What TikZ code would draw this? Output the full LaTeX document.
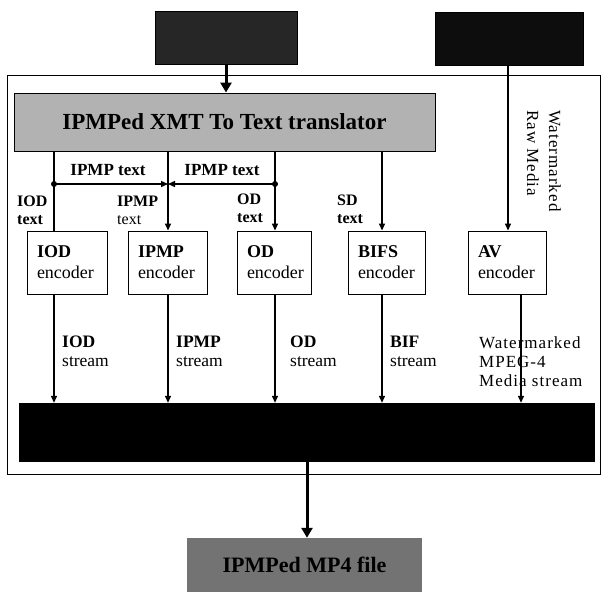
\documentclass[tikz,border=0pt]{standalone}
\usepackage{fontspec}
\setmainfont{Liberation Serif}
\newfontfamily\widefont[LetterSpace=6]{Liberation Serif}
\usetikzlibrary{arrows.meta}
\begin{document}
\begin{tikzpicture}[x=1pt,y=-1pt,
  encbox/.style={draw, line width=0.9pt, fill=white, minimum height=63pt, inner xsep=10pt, inner ysep=0pt,
    text width=#1, align=left, font=\fontsize{18}{21}\selectfont},
  lbl/.style={inner sep=0pt, align=left, font=\fontsize{16}{17.5}\selectfont},
  slbl/.style={inner sep=0pt, align=left, font=\fontsize{17.5}{19}\selectfont},
  thinarrow/.style={line width=1.3pt, -{Triangle[width=6pt,length=7pt]}},
  thinline/.style={line width=1.3pt},
  thickarrow/.style={line width=3pt, -{Triangle[width=11pt,length=10pt]}},
  dot/.style={circle, fill=black, inner sep=0pt, minimum size=6pt}
]
\useasboundingbox (0,0) rectangle (603,592);
\fill[white] (0,0) rectangle (603,592);

% outer frame
\node[draw, line width=1pt, minimum width=593pt, minimum height=399pt, inner sep=0pt] (frame) at (303.5,274.5) {};

% top boxes
\node[fill=black!85, draw=black, minimum width=142pt, minimum height=53pt, inner sep=0pt] (topL) at (226,37.5) {};
\node[fill=black!95, draw=black, minimum width=148pt, minimum height=53pt, inner sep=0pt] (topR) at (509,38.5) {};

% translator
\node[fill=black!30, draw=black, line width=0.9pt, minimum width=421pt, minimum height=58pt, inner sep=0pt,
  font=\fontsize{23}{26}\selectfont\bfseries] (trans) at (224.5,122) {IPMPed XMT To Text translator};

% encoders
\node[encbox=60pt] (iod)  at (67,262.5)   {\textbf{IOD}\\encoder};
\node[encbox=59pt] (ipmp) at (167.5,262.5) {\textbf{IPMP}\\encoder};
\node[encbox=54pt] (od)   at (274,262.5)   {\textbf{OD}\\encoder};
\node[encbox=57pt] (bifs) at (386.5,262.5) {\textbf{BIFS}\\encoder};
\node[encbox=58pt] (av)   at (507,262.5)   {\textbf{AV}\\encoder};

% multiplexer and output
\node[fill=black, minimum width=576pt, minimum height=59pt, inner sep=0pt] (mux) at (307,432.5) {};
\node[fill=black!55, minimum width=235pt, minimum height=54pt, inner sep=0pt,
  font=\fontsize{22}{24}\selectfont\bfseries] (out) at (304.5,565) {IPMPed MP4 file};

% x positions of connectors
\coordinate (xIOD) at (54,0);
\coordinate (xIPMP) at (168,0);
\coordinate (xOD) at (275,0);
\coordinate (xBIFS) at (382,0);
\coordinate (xAV) at (508,0);
\coordinate (xAVo) at (521,0);

% inputs
\draw[thickarrow] (topL.south) -- (trans.north -| topL.south);
\draw[thinline] (trans.south -| xIOD) -- (iod.north -| xIOD);
\draw[thinarrow] (trans.south -| xIPMP) -- (ipmp.north -| xIPMP);
\draw[thinarrow] (trans.south -| xOD) -- (od.north -| xOD);
\draw[thinarrow] (trans.south -| xBIFS) -- (bifs.north -| xBIFS);
\draw[thinarrow] (topR.south -| xAV) -- (av.north -| xAV);

% IPMP text branches
\node[dot] (d1) at (54,184) {};
\node[dot] (d2) at (275,184) {};
\coordinate (m) at (168,184);
\draw[thinarrow] (d1.center) -- (m);
\draw[thinarrow] (d2.center) -- (m);

% outputs
\draw[thinarrow] (iod.south -| xIOD) -- (mux.north -| xIOD);
\draw[thinarrow] (ipmp.south -| xIPMP) -- (mux.north -| xIPMP);
\draw[thinarrow] (od.south -| xOD) -- (mux.north -| xOD);
\draw[thinarrow] (bifs.south -| xBIFS) -- (mux.north -| xBIFS);
\draw[thinarrow] (av.south -| xAVo) -- (mux.north -| xAVo);
\draw[thickarrow] (mux.south) -- (out.north -| mux.south);

% labels
\node[lbl, anchor=base, font=\fontsize{17}{19}\selectfont] (l1) at (108,175) {\textbf{IPMP text}};
\node[lbl, anchor=base, font=\fontsize{17}{19}\selectfont] (l2) at (222,175) {\textbf{IPMP text}};
\node[lbl, anchor=north west] (l3) at (17,196) {\textbf{IOD}\\\textbf{text}};
\node[lbl, anchor=north west] (l4) at (117,196) {\textbf{IPMP}\\text};
\node[lbl, anchor=north west] (l5) at (237,194) {\textbf{OD}\\\textbf{text}};
\node[lbl, anchor=north west] (l6) at (337,195) {\textbf{SD}\\\textbf{text}};
\node[slbl, anchor=north west] (s1) at (62,336) {\textbf{IOD}\\stream};
\node[slbl, anchor=north west] (s2) at (176,336) {\textbf{IPMP}\\stream};
\node[slbl, anchor=north west] (s3) at (290,336) {\textbf{OD}\\stream};
\node[slbl, anchor=north west] (s4) at (390,336) {\textbf{BIF}\\stream};
\node[lbl, anchor=north west, font=\widefont\fontsize{17}{19}\selectfont] (s5) at (479,336) {Watermarked\\MPEG-4\\Media stream};
\node[lbl, anchor=north west, rotate=-90, font=\widefont\fontsize{17}{22}\selectfont] (wm) at (561,110) {Watermarked\\Raw Media};
\end{tikzpicture}
\end{document}
